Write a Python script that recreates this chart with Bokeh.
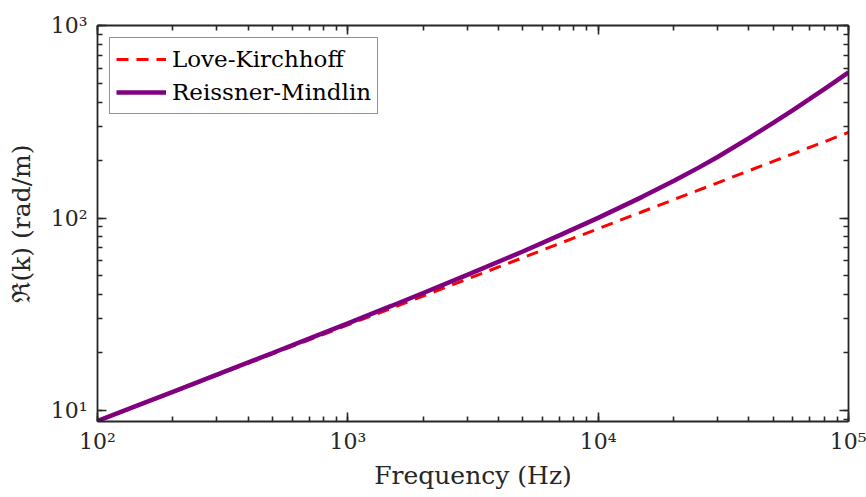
from bokeh.plotting import figure
from bokeh.models import (LogAxis, LogTicker, Legend, LegendItem, Range1d,
                          CustomJSTickFormatter, ColumnDataSource)
from bokeh.embed import file_html
from bokeh.resources import INLINE

# Wavenumber (real part) versus frequency for two plate theories
freq_hz = [100, 150, 200, 300, 500, 700, 1000, 1500, 2000, 3000, 5000, 7000,
           10000, 15000, 20000, 25000, 30000, 40000, 50000, 60000, 70000,
           80000, 90000, 100000]
love_kirchhoff = [8.80, 10.78, 12.45, 15.24, 19.68, 23.28, 27.83, 34.08, 39.35,
                  48.20, 62.23, 73.63, 88.0, 107.8, 124.5, 139.1, 152.4, 176.0,
                  196.8, 215.6, 232.8, 248.9, 264.0, 278.3]
reissner_mindlin = [8.83, 10.82, 12.51, 15.35, 19.90, 23.63, 28.39, 35.03, 40.77,
                    50.66, 67.02, 81.21, 100.2, 128.8, 155.7, 181.6, 207.5, 260.0,
                    312.2, 363.9, 415.6, 467.4, 519.1, 571.0]

x_ticks = [1e2, 1e3, 1e4, 1e5]
x_tick_labels = ["10²", "10³", "10⁴", "10⁵"]
y_ticks = [1e1, 1e2, 1e3]
y_tick_labels = ["10¹", "10²", "10³"]

FONT = "DejaVu Serif"
INK = "#262626"

src = ColumnDataSource(dict(f=freq_hz, lk=love_kirchhoff, rm=reissner_mindlin))

p = figure(width=866, height=497, x_axis_type="log", y_axis_type="log",
           x_range=Range1d(100, 1e5), y_range=Range1d(8.77, 1000),
           output_backend="svg", toolbar_location=None,
           min_border_left=97, min_border_right=18,
           min_border_top=25, min_border_bottom=76)
p.grid.visible = False
p.outline_line_color = None
p.background_fill_color = "white"
p.border_fill_color = "white"

r_lk = p.line("f", "lk", source=src, line_color="#FF0000", line_width=3,
              line_dash="12 8")
r_rm = p.line("f", "rm", source=src, line_color="#800080", line_width=4.5)


def fmt(vals, labs):
    return CustomJSTickFormatter(args=dict(vals=vals, labs=labs), code="""
        let best = 0;
        for (let i = 0; i < vals.length; i++) {
            if (Math.abs(Math.log10(vals[i]) - Math.log10(tick)) <
                Math.abs(Math.log10(vals[best]) - Math.log10(tick))) best = i;
        }
        return labs[best];
    """)


def style(ax):
    ax.ticker = LogTicker(mantissas=[1], num_minor_ticks=10)
    ax.axis_line_color = INK
    ax.axis_line_width = 1.8
    ax.major_tick_line_color = INK
    ax.minor_tick_line_color = INK
    ax.major_tick_line_width = 1.6
    ax.minor_tick_line_width = 1.6
    ax.major_tick_in = 9
    ax.major_tick_out = 0
    ax.minor_tick_in = 5
    ax.minor_tick_out = 0
    ax.major_label_text_font = FONT
    ax.major_label_text_color = INK
    ax.major_label_text_font_size = "22px"
    ax.axis_label_text_font = FONT
    ax.axis_label_text_font_style = "normal"
    ax.axis_label_text_color = INK
    ax.axis_label_text_font_size = "25px"


style(p.xaxis[0])
style(p.yaxis[0])
p.xaxis[0].formatter = fmt(x_ticks, x_tick_labels)
p.yaxis[0].formatter = fmt(y_ticks, y_tick_labels)
p.xaxis[0].axis_label = "Frequency (Hz)"
p.yaxis[0].axis_label = "ℜ(k) (rad/m)"
p.xaxis[0].major_label_standoff = 7
p.xaxis[0].axis_label_standoff = 4
p.yaxis[0].major_label_standoff = 10
p.yaxis[0].axis_label_standoff = 12

# Mirror axes for a closed box with inward ticks, no labels
top_ax = LogAxis()
right_ax = LogAxis()
for ax in (top_ax, right_ax):
    style(ax)
    ax.major_label_text_font_size = "1px"
    ax.major_label_text_alpha = 0
    ax.major_label_standoff = 0
p.add_layout(top_ax, "above")
p.add_layout(right_ax, "right")

legend = Legend(items=[LegendItem(label="Love-Kirchhoff", renderers=[r_lk]),
                       LegendItem(label="Reissner-Mindlin", renderers=[r_rm])],
                location="top_left")
legend.label_text_font = FONT
legend.label_text_font_size = "23px"
legend.label_text_color = "black"
legend.border_line_color = INK
legend.border_line_width = 1.5
legend.background_fill_color = "white"
legend.background_fill_alpha = 1.0
legend.glyph_width = 50
legend.glyph_height = 30
legend.label_height = 30
legend.label_standoff = 6
legend.padding = 6
legend.spacing = 3
legend.margin = 12
p.add_layout(legend)

open("out.html", "w").write(file_html(p, INLINE))
